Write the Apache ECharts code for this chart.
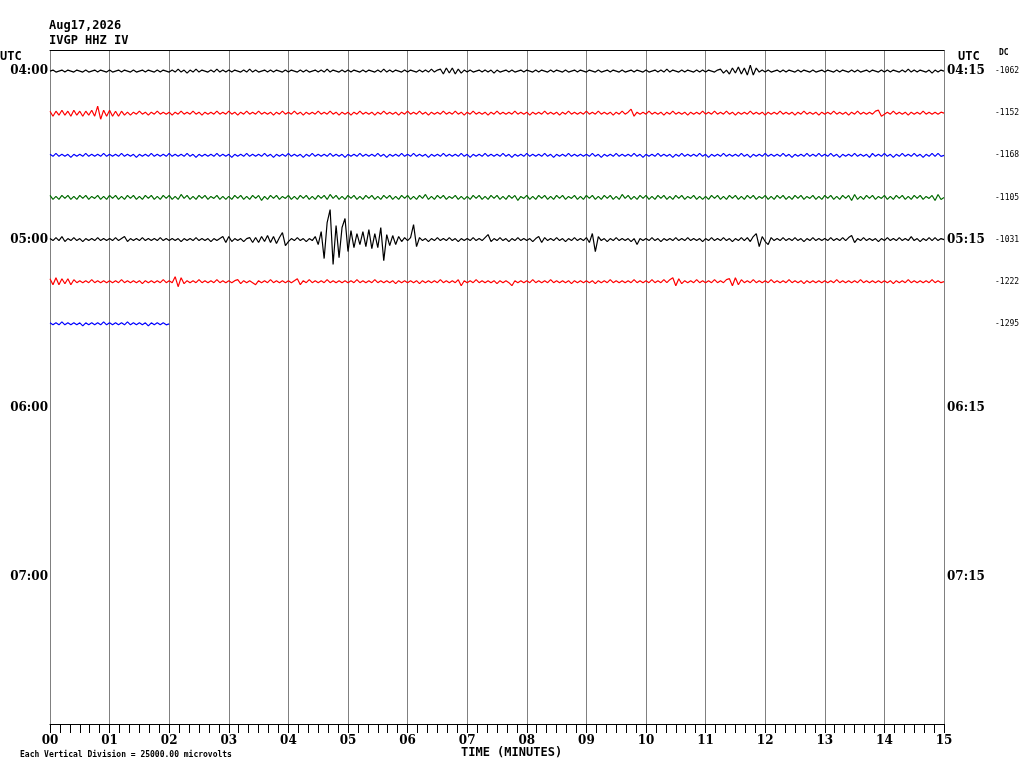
<!DOCTYPE html>
<html>
<head>
<meta charset="utf-8">
<script src="https://cdn.jsdelivr.net/npm/echarts@6/dist/echarts.min.js"></script>
<style>
  html, body { margin: 0; padding: 0; background: #fff; }
  #chart { width: 1024px; height: 768px; }
</style>
</head>
<body>
<div id="chart"></div>
<script>
// 地震记录 helicorder: 每行 15 分钟, 振幅单位为像素估计值 (正值向上)
var minuteLabels = ['00','01','02','03','04','05','06','07','08','09','10','11','12','13','14','15'];
var leftHours = ['04:00', '05:00', '06:00', '07:00'];
var rightHours = ['04:15', '05:15', '06:15', '07:15'];
var dcValues = ['-1062', '-1152', '-1168', '-1105', '-1031', '-1222', '-1295'];
var rowColors = ['#000000', '#ff0000', '#0000ff', '#006a00'];

// 采样间隔 0.05 分钟 (3 秒)
var r0 = [
  0,1,-1,0,1,-1,1,0,-1,1,0,-1,1,-1,0,1,-1,1,0,-1,
  1,-1,0,1,-1,1,0,-1,1,-1,0,1,-1,1,0,-1,1,-1,1,0,
  -1,1,-1,2,-1,1,-2,1,-1,2,-1,1,0,-1,1,-1,2,-1,1,-1,
  1,-1,1,0,-1,1,-1,2,-1,1,-1,0,1,-1,1,-1,1,0,-1,1,
  -1,1,0,-1,1,-1,1,-1,0,1,-1,1,-1,2,-1,1,0,-1,1,-1,
  1,-1,1,0,-1,1,-1,1,0,-1,1,-1,2,-1,1,-1,1,0,-1,1,
  -1,1,0,-1,1,-1,1,-1,2,-1,1,2,-3,3,-2,3,-3,2,-2,1,
  -1,1,-1,0,1,-1,1,-1,1,-2,1,-1,0,1,-1,1,-1,0,1,-1,
  1,0,-1,1,-1,1,0,-1,1,-1,1,0,-1,1,-1,0,1,-1,1,0,
  -1,1,0,-1,1,-1,0,1,-1,1,0,-1,1,-1,0,1,-1,1,0,-1,
  1,-1,0,1,-1,1,-1,2,-1,1,0,-1,1,-1,1,0,-1,1,-1,1,
  -1,1,0,-1,1,2,-2,1,-3,3,-2,4,-3,3,-4,6,-4,3,-1,1,
  -1,1,-1,0,1,-1,1,-1,1,0,-1,1,-1,1,0,-1,1,-1,0,1,
  -1,1,0,-1,1,-1,1,0,-1,1,-1,1,-1,0,1,-1,1,0,-1,1,
  -1,1,-1,1,0,-1,1,-1,2,-1,1,-1,1,0,-1,1,-2,1,-1,1,0
];
var r1 = [
  2,-3,2,-2,3,-2,2,-3,3,-2,2,-3,2,-2,3,-3,7,-6,3,-3,
  3,-3,2,-3,2,-2,1,-2,1,-1,2,-1,1,-2,1,-1,2,-1,1,-1,
  1,-2,1,-1,2,-1,1,-1,2,-1,1,-2,1,-1,1,-1,2,-1,1,-1,
  2,-1,1,-2,1,-1,2,-1,1,-1,2,-1,1,-1,1,-2,1,-1,2,-1,
  1,-1,2,-1,1,-2,1,-1,1,-1,2,-1,1,-1,2,-1,1,-2,1,-1,
  1,-2,1,-1,2,-1,1,-1,1,-2,1,-1,2,-1,1,-1,1,-2,1,-1,
  2,-1,1,-1,2,-1,1,-2,1,-1,1,-1,2,-1,1,-1,2,-1,1,-2,
  1,-1,2,-1,1,-1,1,-2,1,-1,2,-1,1,-1,1,-1,2,-1,1,-1,
  1,-2,1,-1,1,-1,2,-1,1,-1,1,-2,1,-1,2,-1,1,-1,1,-1,
  2,-1,1,-1,2,-1,1,-1,1,-2,1,-1,2,-1,1,4,-3,1,-1,1,
  -1,2,-1,1,-1,1,-2,1,-1,2,-1,1,-1,1,-2,1,-1,1,-1,2,
  -1,1,-1,2,-1,1,-1,2,-1,1,-2,1,-1,1,-1,2,-1,1,-1,1,
  -2,1,-1,1,-1,2,-1,1,-1,1,-2,1,-1,2,-1,1,-1,1,-2,1,
  -1,1,-1,2,-1,1,-1,1,-2,1,-1,2,-1,1,-1,1,-1,2,3,-3,
  -1,1,-1,2,-1,1,-1,1,-2,1,-1,1,-1,2,-1,1,-1,1,-1,1,0
];
var r2 = [
  1,-1,2,-1,1,-1,1,-2,1,-1,1,-1,2,-1,1,-1,1,-1,2,-1,
  1,-1,1,-1,2,-1,1,-1,1,-2,1,-1,1,-1,2,-1,1,-1,1,-1,
  2,-1,1,-1,1,-1,2,-1,1,-2,1,-1,1,-1,1,-1,2,-1,1,-1,
  1,-2,1,-1,1,-1,2,-1,1,-1,1,-1,2,-1,1,-2,1,-1,1,-1,
  2,-1,1,-1,1,-2,1,-1,2,-1,1,-1,1,-1,2,-1,1,-1,1,-2,
  1,-1,1,-1,2,-1,1,-1,1,-1,2,-1,1,-2,1,-1,1,-1,2,-1,
  1,-1,2,-1,1,-1,1,-2,1,-1,1,-1,2,-1,1,-1,1,-1,2,-1,
  1,-2,1,-1,1,-1,2,-1,1,-1,1,-1,2,-1,1,-2,1,-1,1,-1,
  2,-1,1,-1,1,-1,2,-1,1,-2,1,-1,1,-1,2,-1,1,-1,1,-1,
  1,-1,2,-1,1,-2,1,-1,1,-1,2,-1,1,-1,1,-1,2,-1,1,-2,
  1,-1,1,-1,2,-1,1,-1,1,-2,1,-1,2,-1,1,-1,1,-1,2,-1,
  1,-2,1,-1,1,-1,2,-1,1,-1,1,-1,2,-1,1,-2,1,-1,1,-1,
  2,-1,1,-1,1,-1,2,-1,1,-2,1,-1,1,-1,2,-1,1,-1,2,-1,
  1,-1,2,-1,1,-2,1,-1,1,-1,2,-1,1,-1,1,-2,2,-1,1,-1,
  2,-1,1,-2,1,-1,2,-1,1,-1,2,-1,1,-2,1,-1,2,-1,2,-1,0
];
var r3 = [
  2,-2,1,-2,2,-1,2,-2,1,-2,2,-1,2,-2,1,-1,2,-2,1,-2,
  2,-1,2,-2,1,-2,2,-1,2,-2,1,-2,2,-1,2,-2,1,-2,2,-1,
  2,-2,1,-2,3,-1,2,-2,1,-2,2,-1,2,-2,1,-1,2,-2,1,-2,
  1,-2,2,-1,2,-2,1,-2,2,-1,2,-3,1,-2,2,-1,2,-2,1,-1,
  2,-2,1,-2,2,-1,2,-2,1,-2,2,-1,2,-2,3,-1,2,-2,1,-2,
  2,-1,2,-2,1,-2,2,-1,2,-2,1,-2,2,-1,2,-2,1,-2,2,-1,
  2,-2,1,-2,2,-1,3,-2,1,-2,2,-1,2,-2,1,-1,2,-2,1,-2,
  1,-2,2,-1,2,-2,1,-2,2,-1,2,-2,1,-2,2,-1,2,-3,1,-1,
  2,-2,1,-2,2,-1,2,-2,1,-2,2,-1,2,-2,1,-1,2,-2,1,-2,
  2,-1,2,-2,1,-2,2,-1,2,-2,1,-2,3,-1,2,-2,1,-2,2,-1,
  2,-2,1,-2,2,-1,2,-2,1,-2,2,-1,2,-2,1,-1,2,-2,1,-2,
  1,-2,2,-1,2,-2,1,-2,2,-1,2,-2,1,-2,2,-1,2,-2,1,-1,
  2,-2,1,-2,2,-1,2,-2,1,-2,2,-1,2,-2,1,-1,2,-2,1,-2,
  2,-1,2,-2,1,-2,2,-1,2,-3,3,-2,1,-2,2,-1,2,-2,1,-1,
  2,-2,1,-2,2,-1,2,-2,1,-2,2,-1,2,-2,1,-1,2,-3,3,-2,0
];
var r4 = [
  1,-1,2,-1,3,-2,1,-1,2,-1,1,-2,1,-1,1,-1,2,-1,1,-1,
  1,-1,2,-1,1,3,-2,1,-1,1,-1,2,-1,1,-1,1,-1,2,-1,1,
  -1,1,-1,1,-2,1,-1,1,-1,2,-1,1,-1,1,-2,1,-1,1,3,-3,
  3,-2,1,-1,1,-2,1,2,-3,2,-3,3,-2,4,-3,3,-4,2,7,-6,
  -2,1,-1,2,-1,1,-2,1,-1,3,-5,8,-19,17,30,-25,14,-18,12,21,
  -12,9,-8,6,-5,8,-7,10,-9,6,-8,12,-21,5,-6,4,-5,3,-2,2,
  -1,2,15,-7,2,-1,1,-2,1,-1,2,-1,1,-1,2,-1,1,-2,1,-1,
  1,-1,2,-1,1,-1,2,5,-2,1,-1,2,-1,1,-2,1,-1,2,-1,1,
  -1,1,-2,1,3,-3,2,-1,1,-1,2,-1,1,-2,1,-1,2,-1,1,-1,
  2,-3,6,-12,3,-1,1,-2,1,-1,2,-1,1,-1,1,-2,1,-5,1,-1,
  1,-1,2,-1,1,-2,1,-1,1,-1,2,-1,1,-1,2,-1,1,-1,1,-2,
  1,-1,2,-1,1,-1,2,-1,1,-2,1,-1,2,-1,2,-2,3,6,-7,3,
  -2,-5,2,-1,1,-1,2,-1,1,-1,2,-1,1,-2,1,-1,2,-1,1,-1,
  1,-1,2,-1,1,-1,2,-1,2,4,-3,1,-1,2,-1,1,-1,1,-2,1,
  -1,2,-1,1,-1,2,-1,1,-1,3,-1,1,-2,1,-1,2,-1,2,-1,1,0
];
var r5 = [
  3,-3,4,-3,3,-2,3,-3,2,-1,1,-1,1,-1,2,-1,1,-1,1,-1,
  1,-1,1,-1,2,-1,1,-1,1,-1,1,-2,1,-1,1,-1,1,-1,2,-1,
  1,-1,5,-5,4,-2,1,-1,1,-1,2,-1,1,-1,1,-1,2,-1,1,-1,
  1,-1,1,2,-2,1,-1,1,-1,-3,1,-1,1,-1,2,-1,1,-1,1,-1,
  1,-1,1,3,-3,1,-1,2,-1,1,-1,1,-1,2,-1,1,-1,1,-1,1,
  -1,1,-1,2,-1,1,-1,1,-1,2,-1,1,-1,1,-1,1,-2,1,-1,1,
  -1,1,-1,1,-2,1,-1,1,-1,1,-1,2,-1,1,-1,1,-1,2,-4,1,
  -1,1,-1,2,-1,1,-1,1,-1,1,-2,1,-1,1,-1,-4,1,-1,1,-1,
  1,-1,2,-1,1,-1,1,-1,2,-1,1,-1,1,-1,1,-2,1,-1,1,-1,
  1,-1,1,-2,1,-1,1,-1,2,-1,1,-1,1,-1,1,-1,2,-1,1,-1,
  1,-1,2,-1,1,-1,2,-1,2,4,-4,3,-2,1,-1,1,-1,2,-1,1,
  -1,1,-1,2,-1,1,-1,2,3,-4,4,-3,2,-1,1,-1,2,-1,1,-1,
  1,-1,2,-1,1,-1,1,-1,2,-1,1,-1,1,-2,1,-1,1,-1,1,-1,
  1,-1,1,-1,2,-1,1,-1,1,-1,1,-1,2,-1,1,-1,1,-1,1,-1,
  1,-1,1,-2,1,-1,1,-1,2,-1,1,-1,1,-1,1,-1,2,-1,1,-1,0
];
var r6 = [
  1,-1,1,-1,2,-1,1,-1,1,-1,1,-2,1,-1,1,-1,1,-1,2,-1,
  1,-1,1,-1,1,-1,2,-1,1,-1,1,-1,1,-2,1,-1,1,-1,1,-1,0
];
var rows = [r0, r1, r2, r3, r4, r5, r6];

var STEP = 0.05;        // 分钟
var PX_PER_ROW = 42.1;  // 行间距 (像素)

function buildRow(vals, row) {
    return vals.map(function(a, i) {
        return [Math.round(i * STEP * 100) / 100, row - a / PX_PER_ROW];
    });
}

var series = rows.map(function(vals, k) {
    return {
        type: 'line',
        xAxisIndex: 0,
        yAxisIndex: 0,
        data: buildRow(vals, k),
        showSymbol: false,
        symbol: 'none',
        sampling: null,
        silent: true,
        lineStyle: { color: rowColors[k % 4], width: 1.2 },
        z: 3
    };
});

var monoBold = { fontFamily: 'DejaVu Sans Mono', fontWeight: 'bold', fontSize: 12, color: '#000' };

var myChart = echarts.init(document.getElementById('chart'));
var options = {
    animation: false,
    backgroundColor: '#ffffff',
    title: [
        { text: 'Aug17,2026', left: 49, top: 20, padding: 0, textStyle: monoBold },
        { text: 'IVGP HHZ IV', left: 49, top: 35, padding: 0, textStyle: monoBold },
        { text: 'UTC', left: 0, top: 51, padding: 0, textStyle: monoBold },
        { text: 'UTC', left: 958, top: 51, padding: 0, textStyle: monoBold },
        { text: 'DC', left: 999, top: 49, padding: 0,
          textStyle: { fontFamily: 'DejaVu Sans Mono', fontSize: 8, color: '#000' } },
        { text: 'TIME (MINUTES)', left: 461, top: 747, padding: 0, textStyle: monoBold },
        { text: 'Each Vertical Division = 25000.00 microvolts', left: 20, top: 751, padding: 0,
          textStyle: { fontFamily: 'DejaVu Sans Mono', fontSize: 8, color: '#000' } }
    ],
    grid: { left: 50, right: 80, top: 50, bottom: 44 },
    xAxis: [{
        type: 'value',
        position: 'bottom',
        min: 0,
        max: 15,
        interval: 1,
        axisLine: { show: true, onZero: false, lineStyle: { color: '#000', width: 1 } },
        axisTick: { show: true, inside: false, length: 9, lineStyle: { color: '#000' } },
        minorTick: { show: true, splitNumber: 6, length: 9, lineStyle: { color: '#000' } },
        axisLabel: {
            show: true, margin: 11,
            formatter: function(v) { return minuteLabels[Math.round(v)]; },
            fontFamily: 'DejaVu Serif', fontWeight: 'bold', fontSize: 12, color: '#000'
        },
        splitLine: { show: true, lineStyle: { color: '#808080', width: 1 } }
    }, {
        type: 'value',
        position: 'top',
        min: 0,
        max: 15,
        axisLine: { show: true, onZero: false, lineStyle: { color: '#000', width: 1 } },
        axisTick: { show: false },
        axisLabel: { show: false },
        splitLine: { show: false }
    }],
    yAxis: [{
        type: 'value',
        position: 'left',
        inverse: true,
        min: -0.5,
        max: 15.5,
        axisLine: { show: false },
        axisTick: { show: false },
        splitLine: { show: false },
        axisLabel: {
            show: true, margin: 2,
            customValues: [0, 4, 8, 12],
            formatter: function(v) { return leftHours[Math.round(v / 4)]; },
            fontFamily: 'DejaVu Serif', fontWeight: 'bold', fontSize: 12, color: '#000'
        }
    }, {
        type: 'value',
        position: 'right',
        inverse: true,
        min: -0.5,
        max: 15.5,
        axisLine: { show: false },
        axisTick: { show: false },
        splitLine: { show: false },
        axisLabel: {
            show: true, margin: 3,
            customValues: [0, 4, 8, 12],
            formatter: function(v) { return rightHours[Math.round(v / 4)]; },
            fontFamily: 'DejaVu Serif', fontWeight: 'bold', fontSize: 12, color: '#000'
        }
    }, {
        type: 'value',
        position: 'right',
        offset: 48,
        inverse: true,
        min: -0.5,
        max: 15.5,
        axisLine: { show: false },
        axisTick: { show: false },
        splitLine: { show: false },
        axisLabel: {
            show: true, margin: 3,
            customValues: [0, 1, 2, 3, 4, 5, 6],
            formatter: function(v) { return dcValues[Math.round(v)]; },
            fontFamily: 'DejaVu Sans Mono', fontSize: 8, color: '#000'
        }
    }],
    series: series
};
myChart.setOption(options);
</script>
</body>
</html>
